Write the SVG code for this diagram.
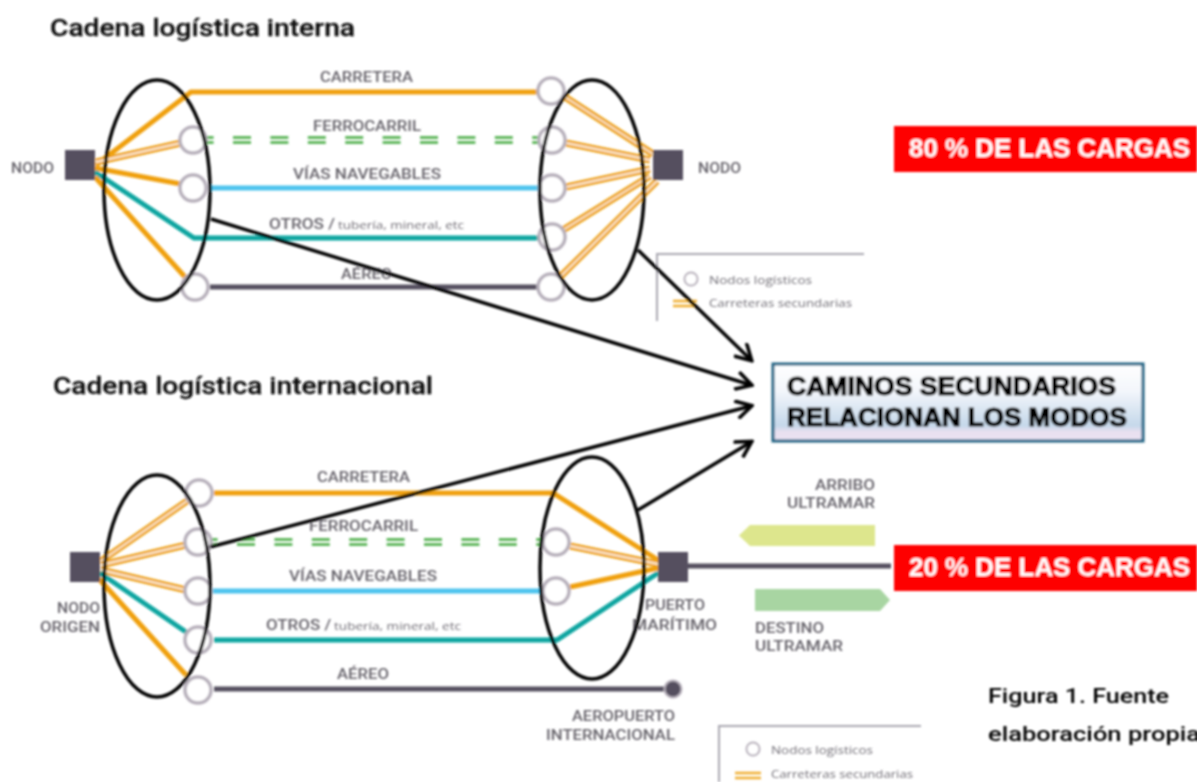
<svg xmlns="http://www.w3.org/2000/svg" width="1197" height="782" viewBox="0 0 1197 782">
<style>
.o{fill:none;stroke:#f0a010;stroke-width:5}
.d1{fill:none;stroke:#eea520;stroke-width:7}
.d2{fill:none;stroke:#fff;stroke-width:1.3}
.t{fill:none;stroke:#0aa5a0;stroke-width:5}
.b{fill:none;stroke:#4dc3ee;stroke-width:5}
.g{fill:none;stroke:#55505f;stroke-width:5}
.gd{fill:none;stroke:#62b85f;stroke-width:2.8;stroke-dasharray:18 19.4}
.c{fill:#fff;stroke:#b7b0bb;stroke-width:3.5}
.e{fill:none;stroke:#000;stroke-width:3.5}
.s{fill:#55505f}
.a{fill:none;stroke:#000;stroke-width:3.5;marker-end:url(#ah)}
.l{font-family:"Roboto","Liberation Sans",sans-serif;font-weight:500;font-size:15px;fill:#66636b}
.sm{font-family:"Open Sans","Liberation Sans",sans-serif;font-size:11px;fill:#6f6c74}
.h{font-family:"Roboto","Liberation Sans",sans-serif;font-weight:500;font-size:24px;fill:#111;stroke:#111;stroke-width:.3}
.m{font-family:"Liberation Sans",sans-serif;font-weight:700;font-size:26px;fill:#000;stroke:#000;stroke-width:1.2}
.r{font-family:"Liberation Sans",sans-serif;font-weight:700;font-size:25px;fill:#fff}
.f{font-family:"Roboto","Liberation Sans",sans-serif;font-weight:500;font-size:21px;fill:#000}
.lg{fill:none;stroke:#a9a7b0;stroke-width:2}
</style>
<defs>
<marker id="ah" viewBox="0 0 20 20" refX="17" refY="10" markerWidth="20" markerHeight="20" markerUnits="userSpaceOnUse" orient="auto"><path d="M2 1 L18 10 L2 19" fill="none" stroke="#000" stroke-width="3.6"/></marker>
<linearGradient id="bx" x1="0" y1="0" x2="0" y2="1"><stop offset="0" stop-color="#fff"/><stop offset=".35" stop-color="#f3f6fb"/><stop offset=".8" stop-color="#c5d8ea"/><stop offset=".88" stop-color="#e8e0f0"/><stop offset="1" stop-color="#ebe2f2"/></linearGradient>
<filter id="bl" x="-2%" y="-2%" width="104%" height="104%"><feGaussianBlur stdDeviation="0.8"/></filter>
</defs>
<rect width="1197" height="782" fill="#fff"/>
<g filter="url(#bl)">
<g id="connectors-top">
<path class="o" d="M96 165 L191 92 H537"/>
<path class="d1" d="M96 162 L181 143"/><path class="d2" d="M96 162 L181 143"/>
<path class="o" d="M95 168 L181 184"/>
<path class="t" d="M95 172 L194 238 H540"/>
<path class="o" d="M95 177 L185 277"/>
<path class="b" d="M211 188 H538"/>
<path class="g" d="M210 287 H537"/>
<path class="gd" d="M206 137.5 H540 M206 142.5 H540" stroke-dashoffset="10.4"/>
<path class="d1" d="M565 97 L653 154"/><path class="d2" d="M565 97 L653 154"/>
<path class="d1" d="M566 143 L650 160"/><path class="d2" d="M566 143 L650 160"/>
<path class="d1" d="M566 187 L650 169"/><path class="d2" d="M566 187 L650 169"/>
<path class="d1" d="M563 230 L650 176"/><path class="d2" d="M563 230 L650 176"/>
<path class="d1" d="M561 276 L657 181"/><path class="d2" d="M561 276 L657 181"/>
</g>
<g id="connectors-bottom">
<path class="d1" d="M101 561 L187 501"/><path class="d2" d="M101 561 L187 501"/>
<path class="d1" d="M101 565 L186 545"/><path class="d2" d="M101 565 L186 545"/>
<path class="d1" d="M101 570 L186 590"/><path class="d2" d="M101 570 L186 590"/>
<path class="t" d="M100 573 L186 632"/>
<path class="o" d="M99 579 L186 675"/>
<path class="o" d="M214 493 H553 L658 560"/>
<path class="b" d="M213 591 H541"/>
<path class="t" d="M214 640 H557 L658 573"/>
<path class="g" d="M214 689 H665"/>
<path class="g" d="M688 566 H891"/>
<path class="gd" d="M208 539.5 H546 M208 544.5 H546" stroke-dashoffset="8.4"/>
<path class="d1" d="M570 546 L658 564"/><path class="d2" d="M570 546 L658 564"/>
<path class="o" d="M570 587 L658 568"/>
</g>
<g id="nodes-top">
<rect id="nodo-izq" class="s" x="65" y="150" width="30" height="30"/>
<rect id="nodo-der" class="s" x="653" y="150" width="30" height="30"/>
<circle class="c" cx="193" cy="140" r="13"/><circle class="c" cx="193" cy="188" r="13"/><circle class="c" cx="195" cy="287" r="13"/>
<circle class="c" cx="551" cy="91" r="13"/><circle class="c" cx="552" cy="140" r="13"/><circle class="c" cx="552" cy="188" r="13"/><circle class="c" cx="552" cy="237" r="13"/><circle class="c" cx="551" cy="287" r="13"/>
</g>
<g id="nodes-bottom">
<rect id="nodo-origen" class="s" x="70" y="552" width="30" height="30"/>
<rect id="puerto" class="s" x="658" y="552" width="30" height="30"/>
<circle class="c" cx="199" cy="493" r="13"/><circle class="c" cx="198" cy="542" r="13"/><circle class="c" cx="198" cy="591" r="13"/><circle class="c" cx="198" cy="640" r="13"/><circle class="c" cx="198" cy="690" r="13"/>
<circle class="c" cx="556" cy="542" r="13"/><circle class="c" cx="556" cy="591" r="13"/>
<circle id="aeropuerto" cx="673" cy="689" r="8.5" fill="#55505f" stroke="#b7b0bb" stroke-width="2"/>
</g>
<g id="labels">
<text class="h" x="50" y="36" textLength="305" lengthAdjust="spacingAndGlyphs">Cadena logística interna</text>
<text class="h" x="53" y="394" textLength="380" lengthAdjust="spacingAndGlyphs">Cadena logística internacional</text>
<text class="l" x="320" y="82" textLength="93" lengthAdjust="spacingAndGlyphs">CARRETERA</text>
<text class="l" x="313" y="131" textLength="108" lengthAdjust="spacingAndGlyphs">FERROCARRIL</text>
<text class="l" x="293" y="179" textLength="148" lengthAdjust="spacingAndGlyphs">VÍAS NAVEGABLES</text>
<text class="l" x="269" y="229" textLength="66" lengthAdjust="spacingAndGlyphs">OTROS /</text>
<text class="sm" x="338" y="229" textLength="126" lengthAdjust="spacingAndGlyphs">tubería, mineral, etc</text>
<text class="l" x="341" y="279" textLength="51" lengthAdjust="spacingAndGlyphs">AÉREO</text>
<text class="l" x="11" y="173" textLength="43" lengthAdjust="spacingAndGlyphs">NODO</text>
<text class="l" x="698" y="173" textLength="43" lengthAdjust="spacingAndGlyphs">NODO</text>
<text class="l" x="317" y="482" textLength="93" lengthAdjust="spacingAndGlyphs">CARRETERA</text>
<text class="l" x="309" y="531" textLength="109" lengthAdjust="spacingAndGlyphs">FERROCARRIL</text>
<text class="l" x="289" y="581" textLength="148" lengthAdjust="spacingAndGlyphs">VÍAS NAVEGABLES</text>
<text class="l" x="266" y="630" textLength="65" lengthAdjust="spacingAndGlyphs">OTROS /</text>
<text class="sm" x="334" y="630" textLength="127" lengthAdjust="spacingAndGlyphs">tubería, mineral, etc</text>
<text class="l" x="337" y="679" textLength="52" lengthAdjust="spacingAndGlyphs">AÉREO</text>
<text class="l" x="57" y="613" textLength="43" lengthAdjust="spacingAndGlyphs">NODO</text>
<text class="l" x="40" y="632" textLength="60" lengthAdjust="spacingAndGlyphs">ORIGEN</text>
<text class="l" x="645" y="610" textLength="60" lengthAdjust="spacingAndGlyphs">PUERTO</text>
<text class="l" x="632" y="630" textLength="85" lengthAdjust="spacingAndGlyphs">MARÍTIMO</text>
<text class="l" x="815" y="490" textLength="60" lengthAdjust="spacingAndGlyphs">ARRIBO</text>
<text class="l" x="787" y="508" textLength="88" lengthAdjust="spacingAndGlyphs">ULTRAMAR</text>
<text class="l" x="755" y="633" textLength="69" lengthAdjust="spacingAndGlyphs">DESTINO</text>
<text class="l" x="755" y="651" textLength="88" lengthAdjust="spacingAndGlyphs">ULTRAMAR</text>
<text class="l" x="572" y="721" textLength="103" lengthAdjust="spacingAndGlyphs">AEROPUERTO</text>
<text class="l" x="546" y="740" textLength="129" lengthAdjust="spacingAndGlyphs">INTERNACIONAL</text>
<text class="f" x="988" y="703" textLength="181" lengthAdjust="spacingAndGlyphs">Figura 1. Fuente</text>
<text class="f" x="988" y="741" textLength="212" lengthAdjust="spacingAndGlyphs">elaboración propia</text>
</g>
<g id="leyenda-top">
<path class="lg" d="M657 321 V254 H864"/>
<circle cx="691" cy="279" r="6.5" fill="#fff" stroke="#b7b0bb" stroke-width="2"/>
<text class="sm" x="709" y="284" textLength="103" lengthAdjust="spacingAndGlyphs">Nodos logísticos</text>
<path d="M673 301 H697 M673 306 H697" stroke="#f0ae30" stroke-width="2.4" fill="none"/>
<text class="sm" x="709" y="307" textLength="143" lengthAdjust="spacingAndGlyphs">Carreteras secundarias</text>
</g>
<g id="leyenda-bottom">
<path class="lg" d="M719 782 V726 H921"/>
<circle cx="753" cy="749" r="6.5" fill="#fff" stroke="#b7b0bb" stroke-width="2"/>
<text class="sm" x="771" y="754" textLength="102" lengthAdjust="spacingAndGlyphs">Nodos logísticos</text>
<path d="M735 773 H761 M735 778 H761" stroke="#f0ae30" stroke-width="2.4" fill="none"/>
<text class="sm" x="771" y="778" textLength="142" lengthAdjust="spacingAndGlyphs">Carreteras secundarias</text>
</g>
<g id="flechas-ultramar">
<path id="arribo" d="M875 525 H750 L739 535.5 L750 546 H875 Z" fill="#dde68d"/>
<path id="destino" d="M755 589 H880 L890 600 L880 611 H755 Z" fill="#a8d5a2"/>
</g>
<g id="red-80"><rect x="894" y="126" width="303" height="46" fill="#fe0000"/><text class="r" x="909" y="157" textLength="281" lengthAdjust="spacingAndGlyphs">80 % DE LAS CARGAS</text></g>
<g id="red-20"><rect x="894" y="545" width="303" height="46" fill="#fe0000"/><text class="r" x="909" y="576" textLength="281" lengthAdjust="spacingAndGlyphs">20 % DE LAS CARGAS</text></g>
<g id="caminos"><rect x="773" y="364" width="370" height="77" fill="url(#bx)" stroke="#1f6484" stroke-width="3"/>
<text class="m" x="787" y="395" textLength="329" lengthAdjust="spacingAndGlyphs">CAMINOS SECUNDARIOS</text>
<text class="m" x="787" y="426" textLength="340" lengthAdjust="spacingAndGlyphs">RELACIONAN LOS MODOS</text></g>
<g id="ellipses">
<ellipse class="e" cx="157" cy="190" rx="53" ry="110"/>
<ellipse class="e" cx="592" cy="190" rx="52" ry="110"/>
<ellipse class="e" cx="157" cy="586" rx="53" ry="111"/>
<ellipse class="e" cx="592" cy="568" rx="52" ry="111"/>
</g>
<g id="connectors-arrows">
<path class="a" d="M211 219 L751 385"/>
<path class="a" d="M638 250 L751 360"/>
<path class="a" d="M210 547 L751 406"/>
<path class="a" d="M638 510 L751 442"/>
</g>
</g>
</svg>
